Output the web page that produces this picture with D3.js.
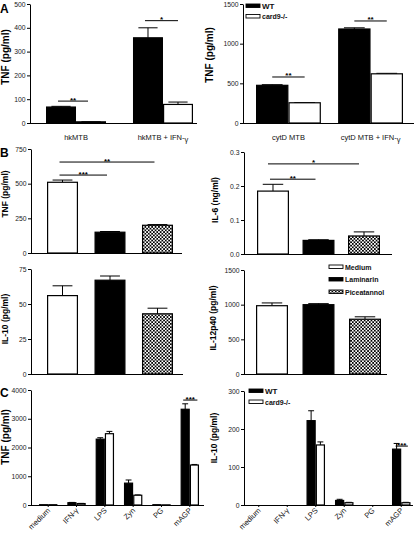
<!DOCTYPE html>
<html><head><meta charset="utf-8">
<script src="https://cdn.jsdelivr.net/npm/d3@7"></script>
<style>body{margin:0;background:#fff}svg{display:block;font-family:"Liberation Sans",Arial,sans-serif}</style>
</head><body><svg id="c" width="416" height="533"></svg>
<script>
// ---------- DATA ----------
const genotypes = ["WT", "card9-/-"];
const treatments = ["Medium", "Laminarin", "Piceatannol"];

// Panel A left
const aLeftCats = ["hkMTB", "hkMTB + IFN-γ"];
const aLeftWT = [67, 358], aLeftWTErr = [3, 42];
const aLeftKO = [5, 78], aLeftKOErr = [1, 10];
const aLeftTicks = [0, 100, 200, 300, 400, 500];

// Panel A right
const aRightCats = ["cytD MTB", "cytD MTB + IFN-γ"];
const aRightWT = [475, 1185], aRightWTErr = [8, 15];
const aRightKO = [255, 620], aRightKOErr = [3, 6];
const aRightTicks = [0, 500, 1000, 1500];

// Panel B
const bTNF = [510, 150, 200], bTNFErr = [16, 5, 5];
const bTNFTicks = [0, 250, 500, 750];
const bIL6 = [0.185, 0.04, 0.053], bIL6Err = [0.02, 0.002, 0.012];
const bIL6Ticks = [0, 0.1, 0.2, 0.3];
const bIL10 = [56, 67, 43], bIL10Err = [7, 3, 4];
const bIL10Ticks = [0, 25, 50, 75];
const bIL12 = [985, 1000, 790], bIL12Err = [40, 15, 35];
const bIL12Ticks = [0, 500, 1000, 1500];

// Panel C
const cCats = ["medium", "IFN-γ", "LPS", "Zyn", "PG", "mAGP"];
const cTNFWT = [10, 80, 2290, 760, 10, 3330], cTNFWTErr = [0, 10, 50, 110, 0, 190];
const cTNFKO = [10, 50, 2480, 340, 5, 1390], cTNFKOErr = [0, 5, 80, 10, 0, 20];
const cTNFTicks = [0, 1000, 2000, 3000, 4000];
const cIL10WT = [0, 0, 222, 12, 0, 147], cIL10WTErr = [0, 0, 26, 3, 0, 15];
const cIL10KO = [0, 0, 158, 6, 0, 6], cIL10KOErr = [0, 0, 8, 1, 0, 1];
const cIL10Ticks = [0, 100, 200, 300];

// ---------- DRAW ----------
const svg = d3.select("#c");
const defs = svg.append("defs");
const pat = defs.append("pattern").attr("id", "checker").attr("patternUnits", "userSpaceOnUse")
  .attr("width", 3.4).attr("height", 3.4);
pat.append("rect").attr("width", 3.4).attr("height", 3.4).attr("fill", "#fff");
pat.append("rect").attr("width", 1.7).attr("height", 1.7).attr("fill", "#000");
pat.append("rect").attr("x", 1.7).attr("y", 1.7).attr("width", 1.7).attr("height", 1.7).attr("fill", "#000");

const styles = {
  black: {fill: "#000", stroke: "#000"},
  white: {fill: "#fff", stroke: "#000"},
  checker: {fill: "url(#checker)", stroke: "#000"}
};
const bStyles = ["white", "black", "checker"];

function yAxis(g, cfg, y) {
  const ya = g.append("g").attr("transform", `translate(${cfg.axisX},0)`)
    .call(d3.axisLeft(y).tickValues(cfg.ticks).tickSize(3).tickSizeOuter(0).tickPadding(1.5)
      .tickFormat(cfg.fmt || d3.format("d")));
  ya.select(".domain").attr("stroke-width", 1);
  ya.selectAll("text").attr("font-size", 6.8).attr("fill", "#222").attr("font-family", "Liberation Sans, Arial, sans-serif");
  g.append("line").attr("x1", cfg.axisX).attr("x2", cfg.axisEnd).attr("y1", y(0) + 0.5).attr("y2", y(0) + 0.5)
    .attr("stroke", "#000").attr("stroke-width", 1);
  g.append("text").attr("transform", `translate(${cfg.ylx},${cfg.yly}) rotate(-90)`)
    .attr("text-anchor", "middle").attr("dominant-baseline", "middle")
    .attr("font-size", cfg.ylSize).attr("font-weight", "bold").text(cfg.ylabel);
}

function bar(g, bx, bw, v, e, y, st) {
  const cx = bx + bw / 2, cap = bw * 0.32;
  if (e > 0) {
    g.append("line").attr("x1", cx).attr("x2", cx).attr("y1", y(v)).attr("y2", y(v + e))
      .attr("stroke", "#000").attr("stroke-width", 1);
    g.append("line").attr("x1", cx - cap).attr("x2", cx + cap).attr("y1", y(v + e)).attr("y2", y(v + e))
      .attr("stroke", "#000").attr("stroke-width", 1);
  }
  if (v > 0) {
    g.append("rect").attr("x", bx + 0.6).attr("y", y(v)).attr("width", Math.max(bw - 1.2, 0.5))
      .attr("height", Math.max(y(0) - y(v), 0.5))
      .attr("fill", st.fill).attr("stroke", st.stroke).attr("stroke-width", 1.2);
  }
}

function sigMark(g, x1, x2, yy, t) {
  g.append("line").attr("x1", x1).attr("x2", x2).attr("y1", yy).attr("y2", yy)
    .attr("stroke", "#000").attr("stroke-width", 1);
  g.append("text").attr("x", (x1 + x2) / 2).attr("y", yy + 1.5).attr("text-anchor", "middle")
    .attr("font-size", 8).attr("font-weight", "bold").text(t);
}

function panel(cfg) {
  const g = svg.append("g");
  const y = d3.scaleLinear().domain(cfg.domain).range([cfg.y0, cfg.yTop]);
  const x = d3.scaleBand().domain(cfg.cats).range(cfg.bandRange).paddingInner(cfg.pi).paddingOuter(0);
  const sub = d3.scaleBand().domain(d3.range(cfg.series.length)).range([0, x.bandwidth()]);

  cfg.series.forEach((s, si) => {
    cfg.cats.forEach((c, ci) => bar(g, x(c) + sub(si), sub.bandwidth(), s.values[ci], s.errs[ci], y, styles[s.style]));
  });
  yAxis(g, cfg, y);

  if (cfg.catMode === "flat") {
    cfg.cats.forEach(c => {
      const cx = x(c) + x.bandwidth() / 2;
      const t = g.append("text").attr("x", cx).attr("y", cfg.y0 + 17).attr("text-anchor", "middle")
        .attr("font-size", 7.5).attr("fill", "#111");
      const m = c.match(/^(.*IFN-)γ$/);
      if (m) {
        t.append("tspan").text(m[1]);
        t.append("tspan").attr("dy", 1.5).text("γ");
      } else t.text(c);
    });
  } else if (cfg.catMode === "rot") {
    cfg.cats.forEach(c => {
      const cx = x(c) + x.bandwidth() / 2;
      g.append("line").attr("x1", cx).attr("x2", cx).attr("y1", y(0)).attr("y2", y(0) + 2).attr("stroke", "#000");
      g.append("text").attr("text-anchor", "end").attr("font-size", 7.6).attr("fill", "#111")
        .attr("transform", `translate(${cx + 2.5},${y(0) + 6}) rotate(-45)`).text(c);
    });
  }

  (cfg.sig || []).forEach(s => {
    const px = ([ci, si]) => x(cfg.cats[ci]) + sub(si) + sub.bandwidth() / 2;
    sigMark(g, px(s.from) + (s.dx1 || 0), px(s.to) + (s.dx2 || 0), y(s.v), s.t);
  });
}

function panelSingle(cfg) {
  const y = d3.scaleLinear().domain(cfg.domain).range([cfg.y0, cfg.yTop]);
  const x = d3.scaleBand().domain(treatments).range(cfg.bandRange).paddingInner(cfg.pi).paddingOuter(0);
  const g = svg.append("g");
  treatments.forEach((c, ci) => bar(g, x(c), x.bandwidth(), cfg.values[ci], cfg.errs[ci], y, styles[bStyles[ci]]));
  yAxis(g, cfg, y);
  (cfg.sig || []).forEach(s => {
    const x1 = x(treatments[s.from]) + x.bandwidth() / 2 + (s.dx || 0);
    const x2 = x(treatments[s.to]) + x.bandwidth() / 2 + (s.dx || 0);
    sigMark(g, x1, x2, y(s.v), s.t);
  });
}

function legend(x0, y0, items, dy) {
  items.forEach((it, i) => {
    const st = styles[it.style];
    const yy = y0 + i * dy;
    svg.append("rect").attr("x", x0).attr("y", yy - 2).attr("width", 14).attr("height", 3.5)
      .attr("fill", st.fill).attr("stroke", st.stroke).attr("stroke-width", 0.9);
    svg.append("text").attr("x", x0 + 16).attr("y", yy + 2.5).attr("font-size", it.size || 7)
      .attr("font-weight", "bold").attr("fill", "#111").text(it.label);
  });
}

// Panel A left
panel({axisX: 30, axisEnd: 197, y0: 123, yTop: 4, domain: [0, 500], ticks: aLeftTicks,
  cats: aLeftCats, bandRange: [46, 193], pi: 0.31,
  series: [{values: aLeftWT, errs: aLeftWTErr, style: "black"}, {values: aLeftKO, errs: aLeftKOErr, style: "white"}],
  catMode: "flat", ylabel: "TNF (pg/ml)", ylx: 6, yly: 57, ylSize: 10,
  sig: [{from: [0, 0], to: [0, 1], v: 92, t: "**", dx1: -3, dx2: -3}, {from: [1, 0], to: [1, 1], v: 430, t: "*", dx1: -3}]});

// Panel A right
panel({axisX: 243, axisEnd: 414, y0: 123, yTop: 4, domain: [0, 1500], ticks: aRightTicks,
  cats: aRightCats, bandRange: [256, 403], pi: 0.21,
  series: [{values: aRightWT, errs: aRightWTErr, style: "black"}, {values: aRightKO, errs: aRightKOErr, style: "white"}],
  catMode: "flat", ylabel: "TNF (pg/ml)", ylx: 210, yly: 55, ylSize: 10,
  sig: [{from: [0, 0], to: [0, 1], v: 580, t: "**"}, {from: [1, 0], to: [1, 1], v: 1286, t: "**"}]});
legend(246, 6, [{label: genotypes[0], style: "black", size: 8}, {label: genotypes[1], style: "white", size: 7}], 10.5);

// Panel B
panelSingle({axisX: 31, axisEnd: 182, y0: 253, yTop: 149, domain: [0, 750], ticks: bTNFTicks,
  bandRange: [47, 173], pi: 0.347, values: bTNF, errs: bTNFErr,
  ylabel: "TNF (pg/ml)", ylx: 6, yly: 194, ylSize: 8.5,
  sig: [{from: 0, to: 2, v: 656, t: "**", dx: -3}, {from: 0, to: 1, v: 562, t: "***", dx: -3}]});
panelSingle({axisX: 244, axisEnd: 392, y0: 254, yTop: 152, domain: [0, 0.3], ticks: bIL6Ticks, fmt: d3.format(".1f"),
  bandRange: [257, 380], pi: 0.297, values: bIL6, errs: bIL6Err,
  ylabel: "IL-6 (ng/ml)", ylx: 216, yly: 200, ylSize: 8.5,
  sig: [{from: 0, to: 2, v: 0.265, t: "*", dx: -5}, {from: 0, to: 1, v: 0.22, t: "**", dx: -3}]});
panelSingle({axisX: 31, axisEnd: 183, y0: 374, yTop: 269, domain: [0, 75], ticks: bIL10Ticks,
  bandRange: [47, 173], pi: 0.347, values: bIL10, errs: bIL10Err,
  ylabel: "IL-10 (pg/ml)", ylx: 6, yly: 319, ylSize: 8.5});
panelSingle({axisX: 244, axisEnd: 387, y0: 374, yTop: 270, domain: [0, 1500], ticks: bIL12Ticks,
  bandRange: [256, 381], pi: 0.312, values: bIL12, errs: bIL12Err,
  ylabel: "IL-12p40 (pg/ml)", ylx: 214, yly: 318, ylSize: 8.5});
legend(329, 267, treatments.map((t, i) => ({label: t, style: bStyles[i], size: 7})), 12.5);

// Panel C
panel({axisX: 31, axisEnd: 204, y0: 505, yTop: 390, domain: [0, 4000], ticks: cTNFTicks,
  cats: cCats, bandRange: [39, 199], pi: 0.35,
  series: [{values: cTNFWT, errs: cTNFWTErr, style: "black"}, {values: cTNFKO, errs: cTNFKOErr, style: "white"}],
  catMode: "rot", ylabel: "TNF (pg/ml)", ylx: 6, yly: 437, ylSize: 10,
  sig: [{from: [5, 0], to: [5, 1], v: 3650, t: "***", dx1: -2, dx2: 3}]});
panel({axisX: 244, axisEnd: 413, y0: 505, yTop: 391, domain: [0, 300], ticks: cIL10Ticks,
  cats: cCats, bandRange: [249.5, 410.5], pi: 0.35,
  series: [{values: cIL10WT, errs: cIL10WTErr, style: "black"}, {values: cIL10KO, errs: cIL10KOErr, style: "white"}],
  catMode: "rot", ylabel: "IL-10 (pg/ml)", ylx: 215, yly: 438, ylSize: 8.5,
  sig: [{from: [5, 0], to: [5, 1], v: 155, t: "***", dx1: -1, dx2: 2}]});
legend(249, 391, [{label: genotypes[0], style: "black", size: 8}, {label: genotypes[1], style: "white", size: 7}], 11);

// panel letters
[["A", 0, 13], ["B", 0, 157], ["C", 0, 397]].forEach(([l, x, y]) =>
  svg.append("text").attr("x", x).attr("y", y).attr("font-size", 12).attr("font-weight", "bold").text(l));
</script></body></html>
